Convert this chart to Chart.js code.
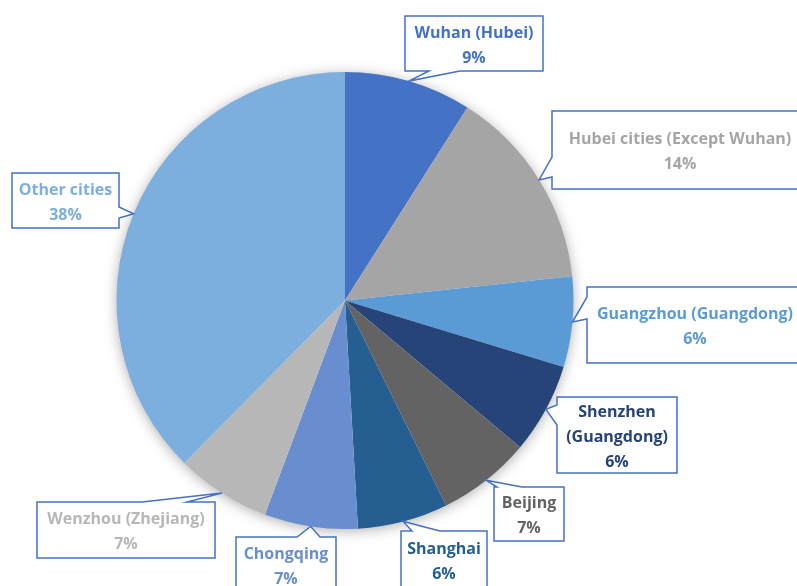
<!DOCTYPE html>
<html lang="en">
<head>
  <meta charset="UTF-8"/>
  <title>Cases by city</title>
  <script src="https://cdn.jsdelivr.net/npm/chart.js"></script>
  <style>
    html, body { margin: 0; padding: 0; background: #fff; }
    .chart-box { width: 797px; height: 586px; position: relative; }
  </style>
</head>
<body>
<div class="chart-box">
  <canvas id="cityPie"></canvas>
</div>

<script>
  // data (share of cases, %)
  const cities = ['Wuhan (Hubei)', 'Hubei cities (Except Wuhan)', 'Guangzhou (Guangdong)',
    'Shenzhen (Guangdong)', 'Beijing', 'Shanghai', 'Chongqing', 'Wenzhou (Zhejiang)', 'Other cities'];
  const shares = [9.0, 14.3, 6.4, 6.4, 6.6, 6.4, 6.6, 6.7, 37.6];
  const sliceColors = ['#4472C4', '#A5A5A5', '#5B9BD5', '#264478', '#636363',
    '#255E91', '#698ED0', '#B7B7B7', '#7CAFDD'];

  // callout boxes: [left, top, right, bottom], side the pointer leaves from, pointer base on that side
  const callouts = [
    { box: [405, 16, 543, 71],   side: 'bottom', base: [429, 460] },
    { box: [552, 111, 808, 189], side: 'left',   base: [157, 177] },
    { box: [587, 287, 803, 363], side: 'left',   base: [297, 319] },
    { box: [557, 397, 677, 473], side: 'left',   base: [405, 425] },
    { box: [494, 487, 564, 541], side: 'top',    base: [497, 522] },
    { box: [401, 531, 487, 588], side: 'top',    base: [412, 440] },
    { box: [236, 537, 336, 593], side: 'top',    base: [297, 320] },
    { box: [37, 502, 215, 558],  side: 'top',    base: [142, 187] },
    { box: [12, 173, 119, 228],  side: 'right',  base: [207, 218] }
  ];

  const FONT = 'bold 16px "Open Sans", Lato, sans-serif';
  const LINE_H = 25;

  function wrapText(ctx, text, maxW) {
    const words = text.split(' ');
    const lines = [];
    let cur = '';
    words.forEach(w => {
      const test = cur ? cur + ' ' + w : w;
      if (ctx.measureText(test).width > maxW && cur) {
        lines.push(cur);
        cur = w;
      } else {
        cur = test;
      }
    });
    if (cur) lines.push(cur);
    return lines;
  }

  // soft shadow behind the pie
  const pieShadow = {
    id: 'pieShadow',
    beforeDatasetsDraw(chart) {
      const arc = chart.getDatasetMeta(0).data[0];
      if (!arc) return;
      const ctx = chart.ctx;
      ctx.save();
      ctx.shadowColor = 'rgba(0,0,0,0.35)';
      ctx.shadowBlur = 14;
      ctx.shadowOffsetY = 2;
      ctx.fillStyle = '#fff';
      ctx.beginPath();
      ctx.arc(arc.x, arc.y, arc.outerRadius - 1, 0, Math.PI * 2);
      ctx.fill();
      ctx.restore();
    }
  };

  // boxed data labels with a pointer to each slice
  const calloutLabels = {
    id: 'calloutLabels',
    afterDatasetsDraw(chart) {
      const ctx = chart.ctx;
      const meta = chart.getDatasetMeta(0);
      const total = shares.reduce((a, b) => a + b, 0);
      meta.data.forEach((arc, i) => {
        const c = callouts[i];
        const [l, t, r, b] = c.box;
        const mid = (arc.startAngle + arc.endAngle) / 2;
        const tip = [arc.x + Math.cos(mid) * arc.outerRadius, arc.y + Math.sin(mid) * arc.outerRadius];
        const [a1, a2] = c.base;
        const pts = [[l, t]];
        if (c.side === 'top') pts.push([a1, t], tip, [a2, t]);
        pts.push([r, t]);
        if (c.side === 'right') pts.push([r, a1], tip, [r, a2]);
        pts.push([r, b]);
        if (c.side === 'bottom') pts.push([a2, b], tip, [a1, b]);
        pts.push([l, b]);
        if (c.side === 'left') pts.push([l, a2], tip, [l, a1]);

        ctx.save();
        ctx.beginPath();
        pts.forEach((p, k) => k ? ctx.lineTo(p[0], p[1]) : ctx.moveTo(p[0], p[1]));
        ctx.closePath();
        ctx.fillStyle = '#fff';
        ctx.fill();
        ctx.strokeStyle = '#4472C4';
        ctx.lineWidth = 1.5;
        ctx.lineJoin = 'miter';
        ctx.stroke();

        ctx.font = FONT;
        ctx.fillStyle = sliceColors[i];
        ctx.textAlign = 'center';
        ctx.textBaseline = 'middle';
        const lines = wrapText(ctx, cities[i], r - l - 8);
        lines.push(Math.round(shares[i] / total * 100) + '%');
        const cx = (l + r) / 2;
        const cy = (t + b) / 2 + 2;
        const y0 = cy - (lines.length - 1) * LINE_H / 2;
        lines.forEach((ln, k) => ctx.fillText(ln, cx, y0 + k * LINE_H));
        ctx.restore();
      });
    }
  };

  new Chart(document.getElementById('cityPie'), {
    type: 'pie',
    data: {
      labels: cities,
      datasets: [{
        data: shares,
        backgroundColor: sliceColors,
        borderWidth: 0
      }]
    },
    options: {
      responsive: true,
      maintainAspectRatio: false,
      animation: false,
      layout: { padding: { left: 115, right: 222, top: 72, bottom: 57 } },
      plugins: {
        legend: { display: false },
        tooltip: { enabled: false }
      }
    },
    plugins: [pieShadow, calloutLabels]
  });
</script>
</body>
</html>
